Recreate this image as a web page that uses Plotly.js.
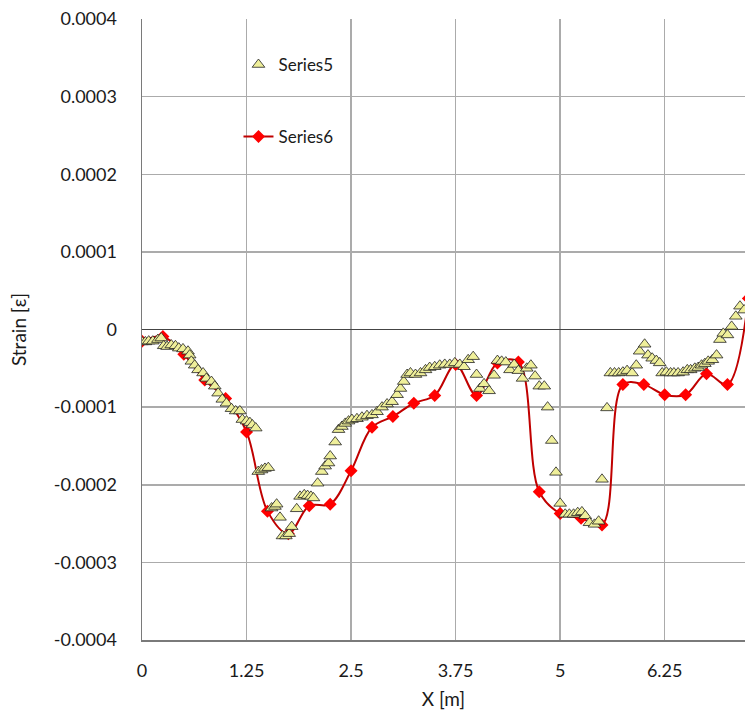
<!DOCTYPE html>
<html>
<head>
<meta charset="utf-8">
<script src="https://cdn.plot.ly/plotly-3.0.1.min.js"></script>
<style>html,body{margin:0;padding:0;background:#fff;overflow:hidden}#chart{width:745px;height:718px}</style>
</head>
<body>
<div id="chart"></div>
<script>
// Series5 (triangles)
const s5X = [0.00,0.04,0.08,0.13,0.19,0.23,0.26,0.30,0.35,0.40,0.44,0.49,0.55,0.57,0.59,0.63,0.67,0.73,0.77,0.83,0.87,0.91,0.96,1.01,1.07,1.12,1.17,1.20,1.25,1.29,1.32,1.36,1.39,1.43,1.47,1.51,1.55,1.59,1.61,1.65,1.68,1.72,1.76,1.79,1.85,1.89,1.94,1.98,2.02,2.05,2.10,2.15,2.19,2.23,2.25,2.31,2.35,2.39,2.43,2.47,2.51,2.57,2.63,2.69,2.75,2.81,2.87,2.93,2.99,3.05,3.09,3.13,3.17,3.21,3.27,3.33,3.39,3.44,3.50,3.56,3.62,3.68,3.74,3.80,3.85,3.90,3.96,4.00,4.04,4.09,4.15,4.21,4.25,4.30,4.35,4.40,4.45,4.50,4.55,4.60,4.65,4.70,4.75,4.81,4.85,4.90,4.95,5.00,5.06,5.11,5.16,5.21,5.26,5.30,5.35,5.41,5.46,5.50,5.56,5.60,5.65,5.70,5.75,5.80,5.86,5.91,5.95,6.01,6.05,6.10,6.15,6.19,6.22,6.27,6.32,6.36,6.41,6.47,6.52,6.56,6.61,6.65,6.69,6.73,6.77,6.82,6.87,6.91,6.95,7.00,7.05,7.10,7.15,7.20];
const s5Y = [-1.6e-5,-1.6e-5,-1.5e-5,-1.5e-5,-1.3e-5,-1.1e-5,-2.1e-5,-2.2e-5,-2.0e-5,-2.1e-5,-2.4e-5,-2.5e-5,-2.8e-5,-3.3e-5,-4.1e-5,-4.6e-5,-5.2e-5,-5.6e-5,-6.3e-5,-6.7e-5,-7.3e-5,-8.2e-5,-9.0e-5,-9.5e-5,-10.2e-5,-10.5e-5,-10.5e-5,-11.6e-5,-11.8e-5,-12.0e-5,-12.3e-5,-12.7e-5,-18.3e-5,-18.1e-5,-17.9e-5,-17.8e-5,-23.0e-5,-22.8e-5,-22.5e-5,-24.2e-5,-26.6e-5,-26.6e-5,-26.3e-5,-25.4e-5,-23.1e-5,-21.5e-5,-21.3e-5,-21.4e-5,-21.5e-5,-21.7e-5,-19.8e-5,-18.3e-5,-17.6e-5,-17.2e-5,-16.3e-5,-14.5e-5,-12.9e-5,-12.5e-5,-12.1e-5,-11.8e-5,-11.6e-5,-11.5e-5,-11.3e-5,-11.1e-5,-11.0e-5,-10.6e-5,-10.0e-5,-9.6e-5,-9.3e-5,-8.4e-5,-7.6e-5,-6.7e-5,-5.8e-5,-5.6e-5,-5.8e-5,-5.6e-5,-5.2e-5,-4.9e-5,-4.8e-5,-4.6e-5,-4.5e-5,-4.5e-5,-4.3e-5,-4.5e-5,-4.8e-5,-3.9e-5,-3.5e-5,-5.8e-5,-7.6e-5,-7.0e-5,-7.9e-5,-5.9e-5,-4.0e-5,-4.1e-5,-4.2e-5,-5.2e-5,-4.5e-5,-5.3e-5,-6.3e-5,-5.0e-5,-4.6e-5,-6.0e-5,-7.3e-5,-7.3e-5,-10.0e-5,-14.3e-5,-18.4e-5,-22.4e-5,-23.8e-5,-23.8e-5,-23.8e-5,-23.6e-5,-23.5e-5,-24.0e-5,-24.9e-5,-25.1e-5,-24.7e-5,-19.3e-5,-10.1e-5,-5.6e-5,-5.6e-5,-5.6e-5,-5.5e-5,-5.3e-5,-5.6e-5,-4.6e-5,-2.8e-5,-1.9e-5,-3.3e-5,-3.7e-5,-4.0e-5,-4.3e-5,-5.6e-5,-5.5e-5,-5.6e-5,-5.6e-5,-5.6e-5,-5.5e-5,-5.2e-5,-5.2e-5,-5.0e-5,-4.9e-5,-4.6e-5,-4.4e-5,-4.1e-5,-3.9e-5,-3.3e-5,-1.3e-5,-0.5e-5,-0.7e-5,0.4e-5,1.7e-5,3.0e-5,2.5e-5];

// Series6 (red diamonds, smoothed line)
const s6X = [0,0.25,0.5,0.75,1.0,1.25,1.5,1.75,2.0,2.25,2.5,2.75,3.0,3.25,3.5,3.75,4.0,4.25,4.5,4.75,5.0,5.25,5.5,5.75,6.0,6.25,6.5,6.75,7.0,7.25];
const s6Y = [-1.5e-5,-0.9e-5,-3.2e-5,-6.5e-5,-8.9e-5,-13.2e-5,-23.4e-5,-26.3e-5,-22.7e-5,-22.5e-5,-18.2e-5,-12.6e-5,-11.2e-5,-9.5e-5,-8.5e-5,-4.5e-5,-8.5e-5,-4.3e-5,-4.2e-5,-20.9e-5,-23.7e-5,-24.3e-5,-25.2e-5,-7.1e-5,-7.1e-5,-8.4e-5,-8.4e-5,-5.7e-5,-7.1e-5,4.0e-5];

const yTickVals = [-0.0004,-0.0003,-0.0002,-0.0001,0,0.0001,0.0002,0.0003,0.0004];
const yTickText = ["-0.0004","-0.0003","-0.0002","-0.0001","0","0.0001","0.0002","0.0003","0.0004"];
const xTickVals = [0,1.25,2.5,3.75,5,6.25,7.5];
const xTickText = ["0","1.25","2.5","3.75","5","6.25","7.5"];

const FONT = "Lato, 'Open Sans', sans-serif";

const traces = [
  {
    x: s6X, y: s6Y, name: "Series6", type: "scatter", mode: "lines+markers",
    line: {color: "#C00000", width: 2, shape: "spline", smoothing: 1},
    marker: {symbol: "diamond", size: 10, color: "#FF0000", line: {width: 0}},
    cliponaxis: true,
    legend: "legend2"
  },
  {
    x: s5X, y: s5Y, name: "Series5", type: "scatter", mode: "markers",
    marker: {symbol: "triangle-up", size: 11, color: "#EFEF9A", line: {color: "#222", width: 0.8}},
    cliponaxis: true,
    legend: "legend"
  }
];

const layout = {
  width: 745, height: 718,
  margin: {l: 142, r: 0, t: 19, b: 78},
  paper_bgcolor: "#fff", plot_bgcolor: "#fff",
  font: {family: FONT, size: 18, color: "#1a1a1a"},
  showlegend: true,
  legend: {x: 0.16, y: 0.926, xanchor: "left", yanchor: "middle", bgcolor: "rgba(0,0,0,0)", font: {size: 17, color: "#1a1a1a"}, traceorder: "normal"},
  legend2: {x: 0.16, y: 0.81, xanchor: "left", yanchor: "middle", bgcolor: "rgba(0,0,0,0)", font: {size: 17, color: "#1a1a1a"}},
  xaxis: {
    range: [0, 7.21], tickvals: xTickVals, ticktext: xTickText,
    showgrid: true, gridcolor: "#ababab", gridwidth: 1.5,
    showline: true, linecolor: "#7a7a7a", linewidth: 1.5,
    zeroline: false, ticks: "", ticklabelstandoff: 14,
    tickfont: {size: 18},
    title: {text: "X [m]", font: {size: 19}, standoff: 12}
  },
  yaxis: {
    range: [-0.0004, 0.0004], tickvals: yTickVals, ticktext: yTickText,
    showgrid: true, gridcolor: "#ababab", gridwidth: 1.5,
    showline: true, linecolor: "#7a7a7a", linewidth: 1.5,
    zeroline: true, zerolinecolor: "#444", zerolinewidth: 1.5,
    ticks: "", ticklabelstandoff: 20,
    tickfont: {size: 18},
    title: {text: "Strain [ε]", font: {size: 19}, standoff: 22}
  }
};

Plotly.newPlot("chart", traces, layout, {staticPlot: true, displayModeBar: false});
</script>
</body>
</html>
